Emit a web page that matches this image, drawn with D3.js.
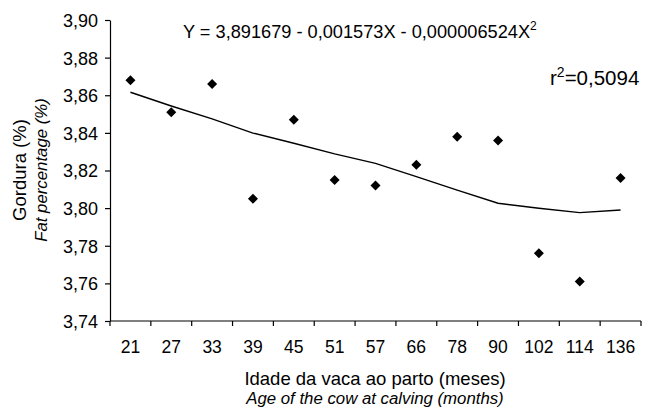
<!DOCTYPE html>
<html>
<head>
<meta charset="utf-8">
<script src="https://cdn.jsdelivr.net/npm/d3@7/dist/d3.min.js"></script>
<style>
  body { margin: 0; background: #fff; }
  svg { display: block; font-family: "Liberation Sans", Arial, sans-serif; }
  .axis path, .axis line { stroke: #000; stroke-width: 1.2; }
  .axis text { fill: #000; font-size: 17.5px; }
</style>
</head>
<body>
<svg id="chart" width="649" height="408"></svg>
<script>
// fat % by age of the cow at calving
const ages = ["21", "27", "33", "39", "45", "51", "57", "66", "78", "90", "102", "114", "136"];
const observed = [3.868, 3.851, 3.866, 3.805, 3.847, 3.815, 3.812, 3.823, 3.838, 3.836, 3.776, 3.761, 3.816];
const fitted = [3.8616, 3.8543, 3.8474, 3.8399, 3.8345, 3.8288, 3.8238, 3.8167, 3.8096, 3.8026, 3.7999, 3.7976, 3.7990];
const yTicks = [3.74, 3.76, 3.78, 3.80, 3.82, 3.84, 3.86, 3.88, 3.90];

const svg = d3.select("#chart");
const m = { left: 110, right: 8, top: 20, bottom: 87 };
const W = 649, H = 408;

const x = d3.scaleBand().domain(ages).range([m.left, W - m.right]);
const y = d3.scaleLinear().domain([3.74, 3.90]).range([H - m.bottom, m.top]);
const fmt = d => d3.format(".2f")(d).replace(".", ",");

// x axis: ticks sit on the band edges, labels in the middle
const xAxis = svg.append("g").attr("class", "axis")
  .attr("transform", `translate(0,${H - m.bottom})`);
xAxis.append("line").attr("x1", m.left).attr("x2", W - m.right);
xAxis.selectAll("line.tk")
  .data(ages.concat(["end"])).join("line").attr("class", "tk")
  .attr("x1", (d, i) => m.left + i * x.step()).attr("x2", (d, i) => m.left + i * x.step())
  .attr("y1", 0).attr("y2", 5);
xAxis.selectAll("text")
  .data(ages).join("text")
  .attr("x", d => x(d) + x.bandwidth() / 2).attr("y", 32)
  .attr("text-anchor", "middle")
  .text(d => d);

svg.append("g").attr("class", "axis")
  .attr("transform", `translate(${m.left},0)`)
  .call(d3.axisLeft(y).tickValues(yTicks).tickFormat(fmt).tickSize(5).tickPadding(7).tickSizeOuter(0))
  .call(g => g.selectAll("text").attr("font-family", null).attr("font-size", null)
    .style("font-size", "18px").attr("dy", "0.36em"));

// fitted curve
const cx = d => x(d) + x.bandwidth() / 2;
svg.append("path")
  .datum(fitted)
  .attr("fill", "none").attr("stroke", "#000").attr("stroke-width", 1.4)
  .attr("d", d3.line().x((d, i) => cx(ages[i])).y(d => y(d)));

// observed means
svg.append("g").selectAll("path")
  .data(observed).join("path")
  .attr("transform", (d, i) => `translate(${cx(ages[i])},${y(d)})`)
  .attr("d", "M0,-5L5,0L0,5L-5,0Z")
  .attr("fill", "#000");

// equation + r²
const eq = svg.append("text").attr("x", 183).attr("y", 38).attr("font-size", 18.2);
eq.append("tspan").text("Y = 3,891679 - 0,001573X - 0,000006524X");
eq.append("tspan").attr("font-size", 12).attr("dy", -8).text("2");

const r2 = svg.append("text").attr("x", 550).attr("y", 85).attr("font-size", 20.5);
r2.append("tspan").text("r");
r2.append("tspan").attr("font-size", 14).attr("dy", -8).text("2");
r2.append("tspan").attr("dy", 8).text("=0,5094");

// axis titles
svg.append("text").attr("x", 375).attr("y", 385).attr("text-anchor", "middle")
  .attr("font-size", 18.5).text("Idade da vaca ao parto (meses)");
svg.append("text").attr("x", 375).attr("y", 404).attr("text-anchor", "middle")
  .attr("font-size", 16.8).attr("font-style", "italic").text("Age of the cow at calving (months)");

svg.append("text").attr("transform", "translate(26,170) rotate(-90)").attr("text-anchor", "middle")
  .attr("font-size", 18.5).text("Gordura (%)");
svg.append("text").attr("transform", "translate(47,170) rotate(-90)").attr("text-anchor", "middle")
  .attr("font-size", 16.8).attr("font-style", "italic").text("Fat percentage (%)");
</script>
</body>
</html>
